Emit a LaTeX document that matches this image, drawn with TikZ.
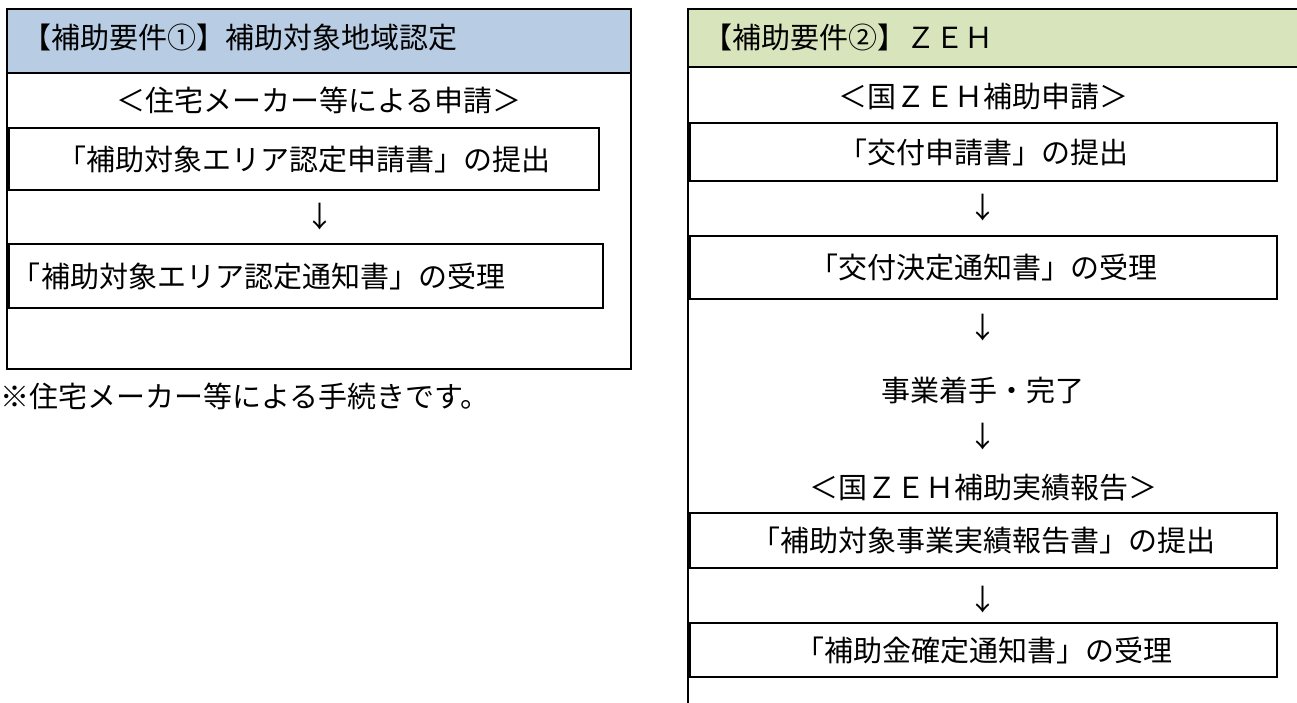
\documentclass[tikz,border=0pt]{standalone}
\usepackage{fontspec}
\setmainfont{Noto Sans CJK JP}
\definecolor{hdrblue}{HTML}{B8CCE4}
\definecolor{hdrgreen}{HTML}{D8E4BC}

\begin{document}
\begin{tikzpicture}[%
        x = 1pt, y = -1pt,
        every node/.style = {inner sep=0pt, font=\fontsize{29}{32}\selectfont},
        frame/.style = {line width=2.4pt},
        stepbox/.style = {draw, line width=2.6pt},
        leftstep/.style = {stepbox, align=left},
    ]
      \clip (0,0) rectangle (1297,702);
      % requirement 1
      \fill [hdrblue] (7,9) rectangle (631,73);
      \draw [frame] (7,9) rectangle (631,369);
      \draw [frame] (7,73) -- (631,73);
      \node [anchor=west] (hdrA) at (22,37) {【補助要件①】補助対象地域認定};
      \node (subA) at (319,100) {＜住宅メーカー等による申請＞};
      \node [stepbox, minimum width=590, minimum height=62] (applyA) at (304,159) {「補助対象エリア認定申請書」の提出};
      \node (arrA) at (320,217) {↓};
      \node [leftstep, minimum width=594, minimum height=64, text width=588] (noticeA) at (306,276) {「補助対象エリア認定通知書」の受理};
      \node [anchor=west] (note) at (0,396) {※住宅メーカー等による手続きです。};
      % requirement 2
      \fill [hdrgreen] (688,9) rectangle (1310,67);
      \draw [frame] (1310,9) -- (688,9) -- (688,710);
      \draw [frame] (688,67) -- (1310,67);
      \node [anchor=west] (hdrB) at (703,37) {【補助要件②】ＺＥＨ};
      \node (subB) at (983,97) {＜国ＺＥＨ補助申請＞};
      \node [stepbox, minimum width=587, minimum height=58] (applyB) at (983.5,152) {「交付申請書」の提出};
      \node (arrB) at (983,208) {↓};
      \node [stepbox, minimum width=587, minimum height=63] (decideB) at (983.5,267.5) {「交付決定通知書」の受理};
      \node (arrC) at (983,328) {↓};
      \node (work) at (983,390) {事業着手・完了};
      \node (arrD) at (983,437) {↓};
      \node (subC) at (983,488) {＜国ＺＥＨ補助実績報告＞};
      \node [stepbox, minimum width=587, minimum height=55] (reportB) at (983.5,540.5) {「補助対象事業実績報告書」の提出};
      \node (arrE) at (983,600) {↓};
      \node [stepbox, minimum width=587, minimum height=54] (fixB) at (983.5,650) {「補助金確定通知書」の受理};
    \end{tikzpicture}
\end{document}
